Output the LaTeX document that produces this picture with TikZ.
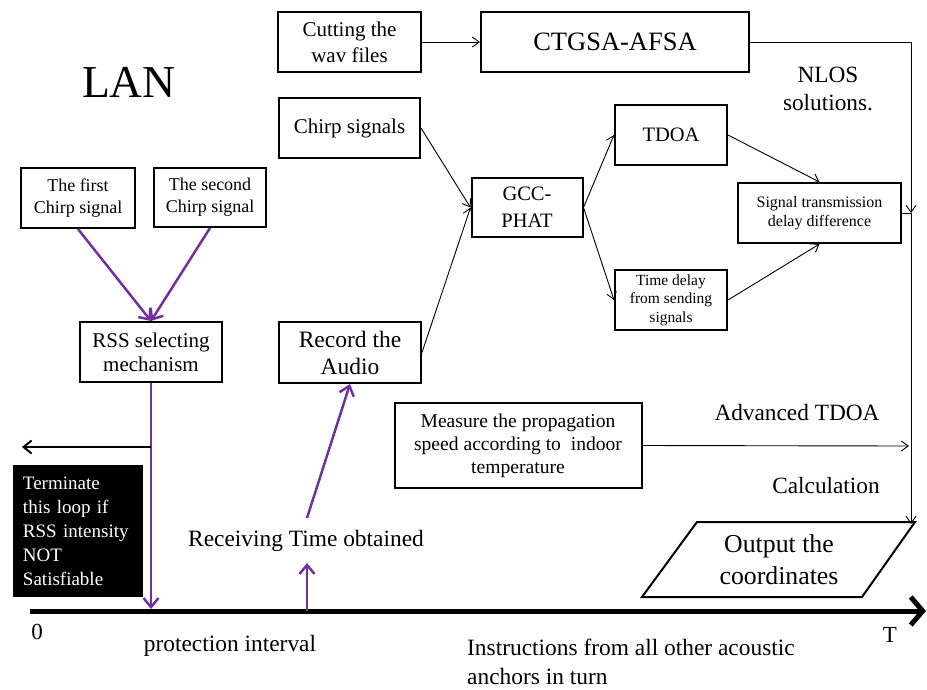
\documentclass[tikz,border=0pt]{standalone}
\usepackage{fontspec}
\setmainfont{Liberation Serif}
\usetikzlibrary{arrows.meta}
\definecolor{purp}{HTML}{7030A0}
\newcommand\fsz[2]{\fontsize{#1}{#2}\selectfont}
\begin{document}
\begin{tikzpicture}[x=1pt,y=-1pt,
  box/.style={draw, line width=2pt, align=center, inner sep=0pt},
  lbl/.style={inner sep=0pt, align=center},
  thinarr/.style={line width=0.9pt, -{Straight Barb[length=7pt,width=10pt]}},
  thinline/.style={line width=0.9pt},
  purparr/.style={draw=purp, line width=2.5pt, -{Straight Barb[length=9pt,width=15pt]}},
  purpline/.style={draw=purp, line width=2.5pt},
  blkarr/.style={line width=2pt, -{Straight Barb[length=8pt,width=13pt]}},
  axisarr/.style={line width=5pt, -{Straight Barb[length=12pt,width=28pt]}}]
\useasboundingbox (0,0) rectangle (927,689);

% boxes
\node[box, minimum width=114pt, minimum height=60pt, font=\fsz{18}{22}] (first) at (78,198) {The first\\Chirp signal};
\node[box, minimum width=112pt, minimum height=59pt, font=\fsz{18}{22}] (second) at (210,197.5) {The second\\Chirp signal};
\node[box, minimum width=142pt, minimum height=60pt, font=\fsz{21}{24}] (rss) at (151,352) {RSS selecting\\mechanism};
\node[box, minimum width=143pt, minimum height=60pt, font=\fsz{21}{26}] (cut) at (349.5,42) {Cutting the\\wav files};
\node[box, minimum width=268pt, minimum height=60pt, font=\fsz{26.5}{30}] (ctg) at (615,42) {CTGSA-AFSA};
\node[box, minimum width=141pt, minimum height=60pt, font=\fsz{21}{25}] (chirp) at (349.5,128) {Chirp signals};
\node[box, minimum width=111pt, minimum height=59pt, font=\fsz{20.5}{27}] (gcc) at (527,207.5) {GCC-\\PHAT};
\node[box, minimum width=112pt, minimum height=60pt, font=\fsz{20.5}{25}] (tdoa) at (671,135) {TDOA};
\node[box, minimum width=112pt, minimum height=60pt, font=\fsz{15.5}{18.5}] (tdel) at (671,300) {Time delay\\from sending\\signals};
\node[box, minimum width=163pt, minimum height=60pt, font=\fsz{16}{19}] (sig) at (819.5,213) {Signal transmission\\delay difference};
\node[box, minimum width=142pt, minimum height=61pt, font=\fsz{23.5}{27}] (rec) at (350,352.5) {Record the\\Audio};
\node[box, minimum width=247pt, minimum height=85pt, font=\fsz{19.6}{23}] (meas) at (518,445.5) {Measure the propagation\\speed according to\ \ indoor\\temperature};
\node[fill=black, text=white, minimum width=130pt, minimum height=132pt, text width=110pt, inner xsep=10pt, inner ysep=0pt, align=left, font=\fsz{19}{24}] (term) at (78,531) {Terminate\\this loop if\\RSS intensity\\NOT\\Satisfiable};

% output parallelogram
\draw[line width=2pt] (697,522) -- (915,522) -- (862,597) -- (642,597) -- cycle;
\node[lbl, font=\fsz{25.8}{32}] (outp) at (779,560) {Output the\\coordinates};

% free labels
\node[lbl, font=\fsz{45.7}{50}] (lan) at (129,82) {LAN};
\node[lbl, font=\fsz{23.3}{28}] (nlos) at (828,89) {NLOS\\solutions.};
\node[lbl, font=\fsz{23.3}{28}] (adv) at (797,413) {Advanced TDOA};
\node[lbl, font=\fsz{23.3}{28}] (calc) at (826,486) {Calculation};
\node[lbl, font=\fsz{23.4}{28}] (recv) at (306,541) {Receiving Time obtained};
\node[lbl, font=\fsz{23.4}{28}] (prot) at (230,646) {protection interval};
\node[lbl, anchor=west, align=left, font=\fsz{23.4}{29}] (instr) at (467,662) {Instructions from all other acoustic\\anchors in turn};
\node[lbl, font=\fsz{23}{28}] (zero) at (37,632) {0};
\node[lbl, font=\fsz{23}{28}] (tend) at (890,635) {T};

% connector end points
\coordinate (rtop) at (911,42);
\coordinate (rmid) at (911,213);
\coordinate (corner) at (911,524);
\coordinate (mend) at (909,446);
\coordinate (ax0) at (30,611);
\coordinate (ax1) at (926,611);
\coordinate (tprot) at (151,609);
\coordinate (lbranch) at (151,447);
\coordinate (lend) at (22,447);
\coordinate (trecv) at (307,611);
\coordinate (recvlow) at (307,563);
\coordinate (recvtop) at (307,518);

% black connectors
\draw[thinarr] (cut.east) -- (ctg.west);
\draw[thinarr] (ctg.east) -- (rtop) -- (rmid);
\draw[thinline] (sig.east) -- (rmid);
\draw[thinarr] (rmid) -- (corner);
\draw[thinarr] (meas.east) -- (mend);
\draw[thinarr] (chirp.east) -- (gcc.west);
\draw[thinarr] (rec.east) -- (gcc.west);
\draw[thinarr] (gcc.east) -- (tdoa.west);
\draw[thinarr] (gcc.east) -- (tdel.west);
\draw[thinarr] (tdoa.east) -- (sig.north);
\draw[thinarr] (tdel.east) -- (sig.south);

% time axis
\draw[axisarr] (ax0) -- (ax1);

% purple connectors
\draw[purparr] (first.south) -- (rss.north);
\draw[purparr] (second.south) -- (rss.north);
\draw[purparr] (rss.south) -- (tprot);
\draw[blkarr] (lbranch) -- (lend);
\draw[purparr] (trecv) -- (recvlow);
\draw[purparr] (recvtop) -- (rec.south);
\end{tikzpicture}
\end{document}
